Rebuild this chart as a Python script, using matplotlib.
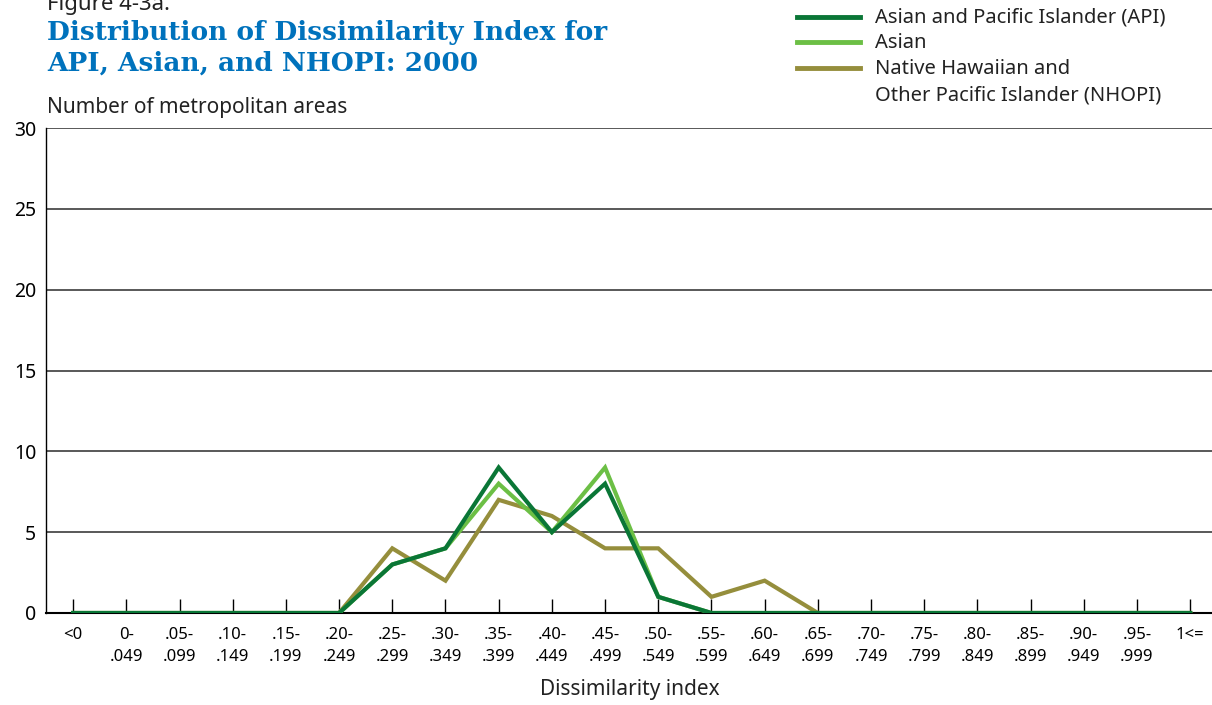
import numpy as np
import matplotlib.pyplot as plt
from matplotlib.lines import Line2D

# categories of the dissimilarity index
cats = ["<0", "0-\n.049", ".05-\n.099", ".10-\n.149", ".15-\n.199", ".20-\n.249",
        ".25-\n.299", ".30-\n.349", ".35-\n.399", ".40-\n.449", ".45-\n.499",
        ".50-\n.549", ".55-\n.599", ".60-\n.649", ".65-\n.699", ".70-\n.749",
        ".75-\n.799", ".80-\n.849", ".85-\n.899", ".90-\n.949", ".95-\n.999", "1<="]

api = [0, 0, 0, 0, 0, 0, 3, 4, 9, 5, 8, 1, 0, 0, 0, 0, 0, 0, 0, 0, 0, 0]
asian = [0, 0, 0, 0, 0, 0, 3, 4, 8, 5, 9, 1, 0, 0, 0, 0, 0, 0, 0, 0, 0, 0]
nhopi = [0, 0, 0, 0, 0, 0, 4, 2, 7, 6, 4, 4, 1, 2, 0, 0, 0, 0, 0, 0, 0, 0]

yticks = [0, 5, 10, 15, 20, 25, 30]

series_names = ["Asian and Pacific Islander (API)", "Asian",
                "Native Hawaiian and\nOther Pacific Islander (NHOPI)"]
colors = ['#0a7636', '#6cbf45', '#958e3c']

plt.rcParams['font.family'] = ['Noto Sans', 'DejaVu Sans']

W, H = 1212, 705
fig = plt.figure(figsize=(W/100, H/100), dpi=100)
ax = fig.add_axes([46/W, 1-613/H, 1-46/W, (613-128)/H])

x = np.arange(len(cats))
ax.plot(x, nhopi, color=colors[2], lw=3, solid_joinstyle='miter', zorder=3)
ax.plot(x, asian, color=colors[1], lw=3, solid_joinstyle='miter', zorder=4)
ax.plot(x, api, color=colors[0], lw=3, solid_joinstyle='miter', zorder=5)

ax.set_xlim(-0.51, 21.41)
ax.set_ylim(0, 30)
ax.set_yticks(yticks)
ax.set_yticklabels([str(v) for v in yticks], fontsize=14)
for v in yticks[1:]:
    ax.axhline(v, color='#3c3c3c', lw=1.2, zorder=1)
ax.tick_params(axis='y', length=0, pad=7)

ax.set_xticks(x)
ax.set_xticklabels(cats, fontsize=12, linespacing=1.5, va='top')
ax.tick_params(axis='x', direction='in', length=10, width=1, color='black', pad=10)

for s in ['top', 'right']:
    ax.spines[s].set_visible(False)
ax.spines['bottom'].set_color('black')
ax.spines['bottom'].set_linewidth(1.5)
ax.spines['left'].set_color('black')
ax.spines['left'].set_linewidth(1)

fig.text(630/W, 1-690/H, "Dissimilarity index", fontsize=15, color='#222222',
         ha='center', va='center')

fig.text(47/W, 1-10/H, "Figure 4-3a.", fontsize=16, color='#222222', va='baseline')
fig.text(47/W, 1-40/H, "Distribution of Dissimilarity Index for", fontsize=19,
         family='DejaVu Serif', fontweight='bold', color='#0072bc', va='baseline')
fig.text(47/W, 1-71/H, "API, Asian, and NHOPI: 2000", fontsize=19,
         family='DejaVu Serif', fontweight='bold', color='#0072bc', va='baseline')
fig.text(47/W, 1-107/H, "Number of metropolitan areas", fontsize=15,
         color='#222222', va='center')

# legend drawn by hand so the two-line label keeps its handle on the first line
leg_y = [17, 42, 68]
text_top = [None, None, 59]
for name, c, y, top in zip(series_names, colors, leg_y, text_top):
    fig.add_artist(Line2D([797/W, 860/W], [1-y/H, 1-y/H], color=c, lw=3.5,
                          transform=fig.transFigure))
    if top is None:
        fig.text(875/W, 1-(y+1)/H, name, fontsize=14.5, color='#222222', va='center')
    else:
        fig.text(875/W, 1-top/H, name, fontsize=14.5, color='#222222', va='top',
                 linespacing=1.45)

fig.savefig("out.png", dpi=100)
